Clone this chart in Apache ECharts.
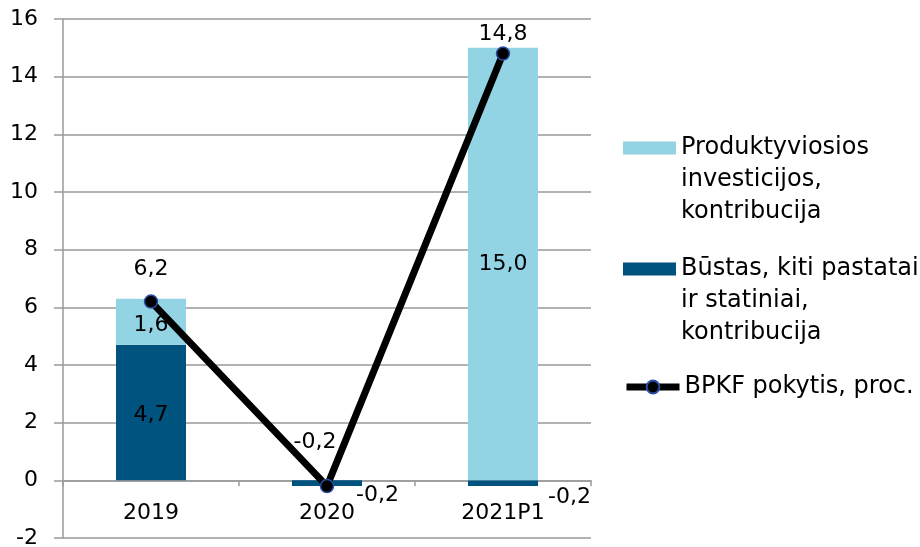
<!DOCTYPE html>
<html lang="lt">
<head>
<meta charset="UTF-8" />
<title>BPKF pokytis</title>
<script src="https://cdn.jsdelivr.net/npm/echarts@6/dist/echarts.min.js"></script>
<style>
    html, body { margin: 0; padding: 0; background: #fff; }
    #chart { width: 920px; height: 547px; }
</style>
</head>
<body>
<div id="chart"></div>
<script>
    // duomenys
    var years = ['2019', '2020', '2021P1'];
    var produktyviosios = [1.6, 0.0, 15.0];
    var bustas = [4.7, -0.2, -0.2];
    var bpkf = [6.2, -0.2, 14.8];
    var yTicks = { min: -2, max: 16, step: 2 };

    var names = [
        'Produktyviosios\ninvesticijos,\nkontribucija',
        'Būstas, kiti pastatai\nir statiniai,\nkontribucija',
        'BPKF pokytis, proc.'
    ];

    var FONT = 'DejaVu Sans';
    function fmt(v) {
        return v.toFixed(1).replace('.', ',');
    }

    var chart = echarts.init(document.getElementById('chart'));

    // etikečių poslinkiai
    var darkOffsets = [[0, 3], [-11, 12], [5, 14]];
    var lightOffsets = [[0, 4], [0, 0], [0, 0]];
    var lineOffsets = [[0, -9], [-12, -21], [0, 4]];

    var option = {
        animation: false,
        textStyle: { fontFamily: FONT },
        grid: { left: 63, right: 329, top: 19, bottom: 9, containLabel: false, outerBoundsMode: 'none' },
        legend: [0, 1, 2].map(function (i) {
            var multi = names[i].indexOf('\n') >= 0;
            return {
                orient: 'vertical',
                left: 623,
                top: [68, 189, 371][i],
                padding: 0,
                itemWidth: 53,
                itemHeight: i === 2 ? 16 : 13,
                itemGap: 0,
                selectedMode: false,
                icon: i === 2 ? undefined : 'rect',
                data: [{
                    name: names[i],
                    lineStyle: i === 2 ? { width: 7, color: '#000' } : undefined
                }],
                // pirmoji eilutė lygiuojama su ženklu
                formatter: function (n) { return multi ? '\n\n' + n : n; },
                textStyle: {
                    fontFamily: FONT,
                    fontSize: 24,
                    lineHeight: 32,
                    color: '#000'
                }
            };
        }),
        xAxis: {
            type: 'category',
            data: years,
            axisLine: { onZero: true, lineStyle: { color: '#9a9a9a', width: 1.5 } },
            axisTick: { show: true, length: 6, lineStyle: { color: '#9a9a9a', width: 1.5 } },
            axisLabel: { margin: -36, fontSize: 22, color: '#000', fontFamily: FONT }
        },
        yAxis: {
            type: 'value',
            min: yTicks.min,
            max: yTicks.max,
            interval: yTicks.step,
            axisLine: { show: true, lineStyle: { color: '#9a9a9a', width: 1.5 } },
            axisTick: { show: true, length: 9, lineStyle: { color: '#9a9a9a', width: 1.5 } },
            splitLine: { lineStyle: { color: '#9a9a9a', width: 1.5 } },
            axisLabel: { margin: 25, fontSize: 22, color: '#000', fontFamily: FONT }
        },
        series: [
            {
                name: names[1],
                type: 'bar',
                stack: 'bpkf',
                barWidth: 70,
                itemStyle: { color: '#00527F' },
                data: bustas.map(function (v, i) {
                    var d = { value: v, label: { offset: darkOffsets[i] } };
                    if (v < 0) {
                        d.label.position = 'right';
                    }
                    return d;
                }),
                label: {
                    show: true,
                    position: 'inside',
                    fontSize: 22,
                    color: '#000',
                    fontFamily: FONT,
                    formatter: function (p) { return fmt(p.value); }
                }
            },
            {
                name: names[0],
                type: 'bar',
                stack: 'bpkf',
                barWidth: 70,
                itemStyle: { color: '#93D4E4' },
                data: produktyviosios.map(function (v, i) {
                    return { value: v, label: { offset: lightOffsets[i] } };
                }),
                label: {
                    show: true,
                    position: 'inside',
                    fontSize: 22,
                    color: '#000',
                    fontFamily: FONT,
                    formatter: function (p) { return p.value === 0 ? '' : fmt(p.value); }
                }
            },
            {
                name: names[2],
                type: 'line',
                z: 5,
                symbol: 'circle',
                symbolSize: 13,
                lineStyle: { color: '#000', width: 7 },
                itemStyle: { color: '#000', borderColor: '#2B50A6', borderWidth: 1.5 },
                data: bpkf.map(function (v, i) {
                    return { value: v, label: { offset: lineOffsets[i] } };
                }),
                label: {
                    show: true,
                    position: 'top',
                    fontSize: 22,
                    color: '#000',
                    fontFamily: FONT,
                    formatter: function (p) { return fmt(p.value); }
                }
            }
        ]
    };

    chart.setOption(option);
</script>
</body>
</html>
